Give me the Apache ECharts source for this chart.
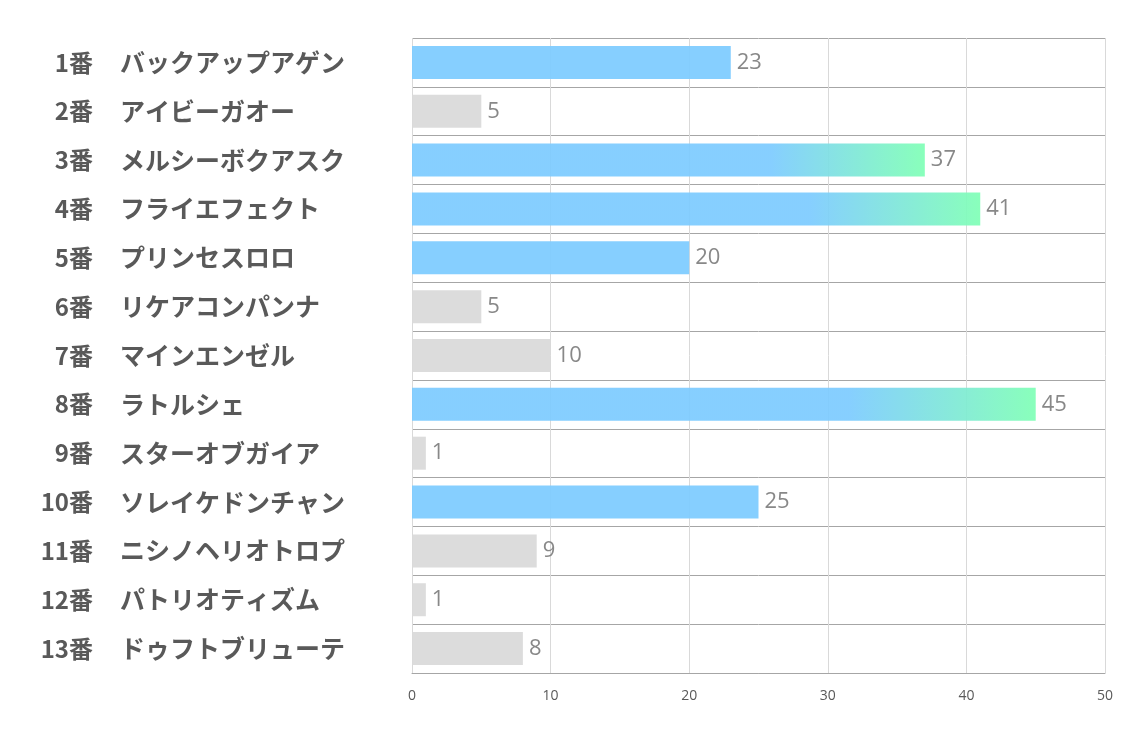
<!DOCTYPE html>
<html>
<head>
<meta charset="utf-8">
<script src="https://cdn.jsdelivr.net/npm/echarts@6/dist/echarts.min.js"></script>
<style>
  html, body { margin: 0; padding: 0; background: #fff; }
  #main { width: 1134px; height: 737px; }
</style>
</head>
<body>
<div id="main"></div>
<script>
  // 馬番・馬名・値
  var horseNums = ['1番', '2番', '3番', '4番', '5番', '6番', '7番', '8番', '9番', '10番', '11番', '12番', '13番'];
  var horseNames = ['バックアップアゲン', 'アイビーガオー', 'メルシーボクアスク', 'フライエフェクト', 'プリンセスロロ',
    'リケアコンパンナ', 'マインエンゼル', 'ラトルシェ', 'スターオブガイア', 'ソレイケドンチャン',
    'ニシノヘリオトロプ', 'パトリオティズム', 'ドゥフトブリューテ'];
  var values = [23, 5, 37, 41, 20, 5, 10, 45, 1, 25, 9, 1, 8];
  var xTicks = [0, 10, 20, 30, 40, 50];

  var BLUE = '#7dcbff', GREEN = '#80ffb6', GRAY = '#d9d9d9';

  function barColor(v) {
    if (v > 30) {
      return new echarts.graphic.LinearGradient(0, 0, 1, 0, [
        { offset: 0, color: BLUE },
        { offset: 0.7, color: BLUE },
        { offset: 1, color: GREEN }
      ]);
    }
    return v >= 20 ? BLUE : GRAY;
  }

  var labelFont = { fontWeight: 'bold', color: '#595959', fontFamily: 'Noto Sans CJK JP' };

  var chart = echarts.init(document.getElementById('main'));
  var option = {
    animation: false,
    grid: { left: 412, right: 29, top: 38, bottom: 64, containLabel: false },
    xAxis: {
      type: 'value',
      min: xTicks[0],
      max: xTicks[xTicks.length - 1],
      interval: 10,
      axisLine: { show: true, lineStyle: { color: '#a6a6a6', width: 1 } },
      axisTick: { show: false },
      axisLabel: { color: '#595959', fontSize: 14, margin: 16, fontFamily: 'Open Sans' },
      splitLine: { show: true, lineStyle: { color: '#d9d9d9', width: 1 } }
    },
    yAxis: [{
      type: 'category',
      inverse: true,
      data: horseNums,
      axisLine: { show: false },
      axisTick: { show: false },
      splitLine: { show: true, interval: 0, lineStyle: { color: '#a6a6a6', width: 1 } },
      axisLabel: Object.assign({ margin: 319, interval: 0, align: 'right', fontSize: 24 }, labelFont)
    }, {
      type: 'category',
      position: 'left',
      inverse: true,
      data: horseNames,
      axisLine: { show: false },
      axisTick: { show: false },
      splitLine: { show: false },
      axisLabel: Object.assign({ margin: 292, interval: 0, align: 'left', fontSize: 25 }, labelFont)
    }],
    series: [{
      type: 'bar',
      yAxisIndex: 0,
      barWidth: 33,
      data: values.map(function (v) {
        return { value: v, itemStyle: { color: barColor(v), opacity: 0.93 } };
      }),
      label: {
        show: true,
        position: 'right',
        distance: 6,
        color: '#7f7f7f',
        fontSize: 22,
        fontFamily: 'Open Sans'
      }
    }]
  };
  chart.setOption(option);
  window.addEventListener('resize', function () { chart.resize(); });
</script>
</body>
</html>
